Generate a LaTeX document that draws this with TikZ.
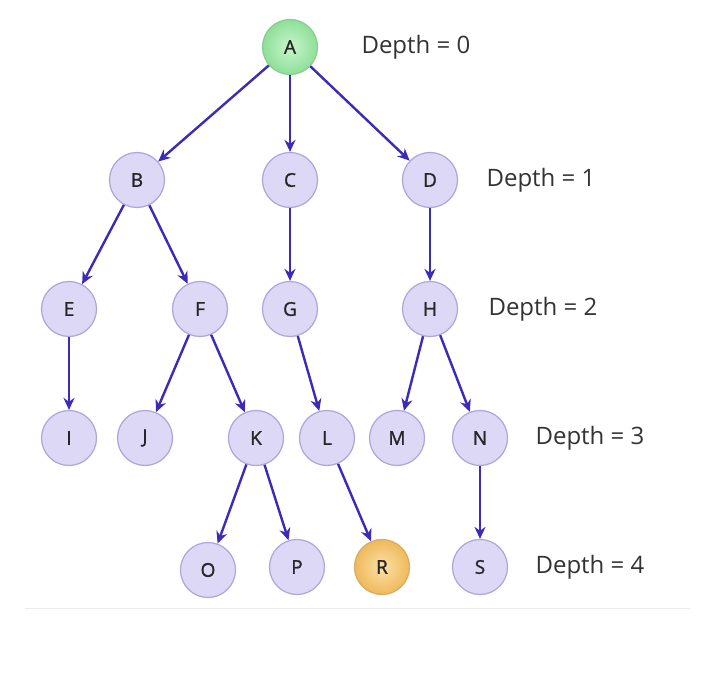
\documentclass[tikz,border=0pt]{standalone}
\usepackage{fontspec}
\setmainfont{Open Sans}
\newfontfamily\letterfont[FakeBold=1.2]{Open Sans}
\usetikzlibrary{arrows.meta,shadings}
\definecolor{nodefill}{HTML}{DCD8F6}
\definecolor{nodeedge}{HTML}{ADA6DA}
\definecolor{edgeblue}{HTML}{3A2BB8}
\definecolor{rootin}{HTML}{C8F5CC}
\definecolor{rootout}{HTML}{8EDF98}
\definecolor{goalin}{HTML}{FBE0A8}
\definecolor{goalout}{HTML}{EFB95A}
\begin{document}
\begin{tikzpicture}[x=1pt,y=-1pt,
  vertex/.style={circle,minimum size=55pt,inner sep=0pt,draw=nodeedge,line width=1.2pt,
    fill=nodefill,text=black!85,font=\letterfont\fontsize{19}{19}\selectfont},
  rootv/.style={vertex,draw=rootout!80!gray,inner color=rootin,outer color=rootout},
  goalv/.style={vertex,draw=goalout!80!gray,inner color=goalin,outer color=goalout},
  edge/.style={-{Stealth[length=12pt,width=11pt]},line width=2.4pt,draw=edgeblue},
  depthlbl/.style={anchor=west,font=\fontsize{24}{24}\selectfont,text=black!80}]
\useasboundingbox (0,0) rectangle (701,684);
\fill[white] (0,0) rectangle (701,684);
\draw[black!8,line width=0.8pt] (25,608) -- (690,608);

% vertices, level by level
\node[rootv]  (A) at (290,47)  {A};
\node[vertex] (B) at (137,180) {B};
\node[vertex] (C) at (290,180) {C};
\node[vertex] (D) at (430,180) {D};
\node[vertex] (E) at (69,309)  {E};
\node[vertex] (F) at (200,309) {F};
\node[vertex] (G) at (290,309) {G};
\node[vertex] (H) at (430,309) {H};
\node[vertex] (I) at (69,438)  {I};
\node[vertex] (J) at (145,438) {J};
\node[vertex] (K) at (256,438) {K};
\node[vertex] (L) at (327,438) {L};
\node[vertex] (M) at (397,438) {M};
\node[vertex] (N) at (480,438) {N};
\node[vertex] (O) at (208,570) {O};
\node[vertex] (P) at (297,567) {P};
\node[goalv]  (R) at (382,567) {R};
\node[vertex] (S) at (480,567) {S};

% tree edges
\foreach \u/\v in {A/B,A/C,A/D,B/E,B/F,C/G,D/H,E/I,F/J,F/K,G/L,H/M,H/N,K/O,K/P,L/R,N/S}
  \draw[edge] (\u) -- (\v);

% depth annotations
\node[depthlbl] (d0) at (358,47)  {Depth = 0};
\node[depthlbl] (d1) at (483,180) {Depth = 1};
\node[depthlbl] (d2) at (485,309) {Depth = 2};
\node[depthlbl] (d3) at (532,438) {Depth = 3};
\node[depthlbl] (d4) at (532,567) {Depth = 4};
\end{tikzpicture}
\end{document}
